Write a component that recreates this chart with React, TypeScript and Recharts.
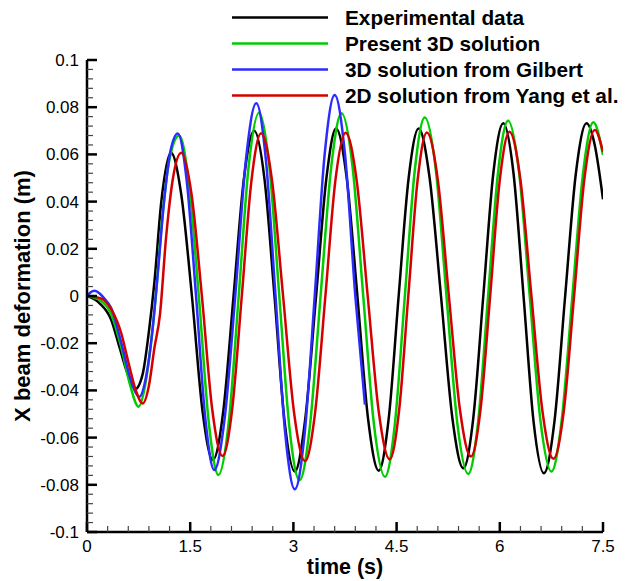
import { LineChart, Line, XAxis, YAxis, Legend } from "recharts";

type Pt = [number, number];

// [time (s), deformation (m)]
const experimental: Pt[] = [
  [0, 0], [0.18, -0.003], [0.35, -0.01], [0.47, -0.0215], [0.59, -0.033], [0.7, -0.0395],
  [0.81, -0.033], [0.9, -0.015], [0.98, 0.006], [1.08, 0.04], [1.22, 0.0607],
  [1.37, 0.043], [1.525, 0], [1.68, -0.049], [1.83, -0.0695],
  [1.98, -0.049], [2.13, 0], [2.28, 0.0495], [2.43, 0.07],
  [2.58, 0.0495], [2.725, 0], [2.87, -0.0526], [3.02, -0.0744],
  [3.17, -0.0526], [3.33, 0], [3.48, 0.05], [3.62, 0.071],
  [3.775, 0.05], [3.93, 0], [4.085, -0.052], [4.24, -0.074],
  [4.385, -0.052], [4.53, 0], [4.675, 0.05], [4.82, 0.071],
  [4.98, 0.05], [5.145, 0], [5.31, -0.0516], [5.47, -0.073],
  [5.615, -0.0516], [5.76, 0], [5.905, 0.0518], [6.05, 0.0732],
  [6.2, 0.0518], [6.345, 0], [6.49, -0.053], [6.64, -0.0751],
  [6.795, -0.053], [6.95, 0], [7.105, 0.0518], [7.26, 0.0732],
  [7.38, 0.064], [7.5, 0.041],
];

const present3D: Pt[] = [
  [0, 0], [0.2, -0.002], [0.34, -0.007], [0.5, -0.022], [0.62, -0.037], [0.75, -0.0469],
  [0.85, -0.037], [0.93, -0.02], [1.0, 0], [1.09, 0.032], [1.2, 0.058], [1.34, 0.068],
  [1.48, 0.048], [1.625, 0], [1.77, -0.0536], [1.91, -0.0758],
  [2.06, -0.0536], [2.205, 0], [2.35, 0.055], [2.5, 0.0777],
  [2.65, 0.055], [2.795, 0], [2.94, -0.0551], [3.09, -0.078],
  [3.24, -0.0551], [3.395, 0], [3.55, 0.0547], [3.7, 0.0774],
  [3.86, 0.0547], [4.015, 0], [4.17, -0.0542], [4.33, -0.0766],
  [4.475, -0.0542], [4.62, 0], [4.765, 0.0535], [4.91, 0.0756],
  [5.07, 0.0535], [5.225, 0], [5.38, -0.0533], [5.54, -0.0754],
  [5.685, -0.0533], [5.83, 0], [5.975, 0.0525], [6.12, 0.0743],
  [6.28, 0.0525], [6.435, 0], [6.59, -0.0526], [6.75, -0.0744],
  [6.9, -0.0526], [7.055, 0], [7.21, 0.052], [7.36, 0.0736],
  [7.5, 0.0597],
];

const gilbert3D: Pt[] = [
  [0, 0], [0.05, 0.0015], [0.11, 0.0022], [0.18, 0.0012], [0.25, -0.001], [0.35, -0.005],
  [0.5, -0.02], [0.63, -0.035], [0.76, -0.0427], [0.86, -0.034], [0.95, -0.015],
  [1.03, 0.01], [1.12, 0.04], [1.21, 0.061], [1.32, 0.0689],
  [1.45, 0.0487], [1.585, 0], [1.72, -0.0521], [1.85, -0.0737],
  [2.0, -0.0521], [2.155, 0], [2.31, 0.0578], [2.46, 0.0817],
  [2.6, 0.0578], [2.74, 0], [2.88, -0.0579], [3.02, -0.0819],
  [3.165, -0.0579], [3.31, 0], [3.455, 0.0602], [3.6, 0.0852],
  [3.75, 0.06], [3.9, 0], [4.04, -0.046],
];

const yang2D: Pt[] = [
  [0, 0], [0.2, -0.001], [0.36, -0.006], [0.5, -0.016], [0.605, -0.0285], [0.71, -0.04],
  [0.81, -0.0455], [0.9, -0.038], [0.98, -0.022], [1.06, -0.008], [1.15, 0.025],
  [1.25, 0.05], [1.37, 0.0607],
  [1.52, 0.043], [1.67, 0], [1.82, -0.048], [1.97, -0.0678],
  [2.11, -0.048], [2.25, 0], [2.39, 0.0488], [2.53, 0.069],
  [2.69, 0.0488], [2.85, 0], [3.01, -0.0495], [3.17, -0.07],
  [3.315, -0.0495], [3.465, 0], [3.61, 0.0489], [3.76, 0.0692],
  [3.92, 0.0489], [4.08, 0], [4.24, -0.0489], [4.4, -0.0692],
  [4.535, -0.0489], [4.67, 0], [4.805, 0.049], [4.94, 0.0693],
  [5.1, 0.049], [5.26, 0], [5.42, -0.048], [5.58, -0.068],
  [5.72, -0.048], [5.86, 0], [6.0, 0.0492], [6.14, 0.0696],
  [6.3, 0.0492], [6.46, 0], [6.62, -0.0488], [6.78, -0.069],
  [6.93, -0.0488], [7.08, 0], [7.23, 0.0497], [7.38, 0.0703],
  [7.5, 0.061],
];

const seriesNames = [
  "Experimental data",
  "Present 3D solution",
  "3D solution from Gilbert",
  "2D solution from Yang et al.",
];
const seriesColors = ["#000000", "#00cc00", "#2b2bff", "#d40000"];
const seriesData = [experimental, present3D, gilbert3D, yang2D];

const xMajorTicks = [0, 1.5, 3, 4.5, 6, 7.5];
const xTickLabels = ["0", "1.5", "3", "4.5", "6", "7.5"];
const yMajorTicks = [-0.1, -0.08, -0.06, -0.04, -0.02, 0, 0.02, 0.04, 0.06, 0.08, 0.1];
const yTickLabels = ["-0.1", "-0.08", "-0.06", "-0.04", "-0.02", "0", "0.02", "0.04", "0.06", "0.08", "0.1"];

const FONT = "'Liberation Sans', Arial, Helvetica, sans-serif";

// major ticks plus 4 minor ticks between each pair
function withMinor(major: number[]) {
  const out: number[] = [];
  for (let i = 0; i < major.length - 1; i++) {
    for (let k = 0; k < 5; k++) out.push(major[i] + ((major[i + 1] - major[i]) * k) / 5);
  }
  out.push(major[major.length - 1]);
  return out;
}

function majorIndex(list: number[], v: number) {
  return list.findIndex((m) => Math.abs(m - v) < 1e-9);
}

function YTick({ x, y, payload }: any) {
  const idx = majorIndex(yMajorTicks, payload.value);
  const major = idx >= 0;
  return (
    <g>
      <line x1={x} y1={y} x2={x + (major ? 10 : 6)} y2={y} stroke={major ? "#000" : "#444"} strokeWidth={major ? 2.5 : 1.2} />
      {major && (
        <text x={x - 8} y={y + 6} textAnchor="end" fontSize={17} fontFamily={FONT} fill="#000">
          {yTickLabels[idx]}
        </text>
      )}
    </g>
  );
}

function XTick({ x, y, payload }: any) {
  const idx = majorIndex(xMajorTicks, payload.value);
  const major = idx >= 0;
  return (
    <g>
      <line x1={x} y1={y} x2={x} y2={y - (major ? 10 : 6)} stroke={major ? "#000" : "#444"} strokeWidth={major ? 2.5 : 1.2} />
      {major && (
        <text x={x} y={y + 20} textAnchor="middle" fontSize={17} fontFamily={FONT} fill="#000">
          {xTickLabels[idx]}
        </text>
      )}
    </g>
  );
}

function LegendBox() {
  return (
    <svg width={641} height={110} style={{ display: "block" }}>
      {seriesNames.map((name, i) => {
        const cy = 17.5 + i * 26;
        return (
          <g key={name}>
            <line x1={232} y1={cy} x2={328} y2={cy} stroke={seriesColors[i]} strokeWidth={2.5} />
            <text x={345} y={cy + 7} fontSize={20.8} fontWeight="bold" fontFamily={FONT} fill="#000">
              {name}
            </text>
          </g>
        );
      })}
    </svg>
  );
}

export default function App() {
  return (
    <div style={{ position: "absolute", left: 0, top: 0, width: 641, height: 581, background: "#fff" }}>
      <LineChart width={641} height={581} margin={{ top: 60, right: 38, left: 0, bottom: 8 }}>
        <XAxis
          dataKey="t"
          type="number"
          domain={[0, 7.5]}
          ticks={withMinor(xMajorTicks)}
          interval={0}
          tickLine={false}
          tickSize={0}
          tickMargin={0}
          tick={<XTick />}
          height={41}
          allowDataOverflow
          axisLine={{ stroke: "#000", strokeWidth: 2.5 }}
          label={(props: any) => {
            const vb = props.viewBox;
            return (
              <text x={vb.x + vb.width / 2} y={vb.y + 42} textAnchor="middle" fontSize={21.5} fontWeight="bold" fontFamily={FONT} fill="#000">
                time (s)
              </text>
            );
          }}
        />
        <YAxis
          type="number"
          domain={[-0.1, 0.1]}
          ticks={withMinor(yMajorTicks)}
          interval={0}
          tickLine={false}
          tickSize={0}
          tickMargin={0}
          tick={<YTick />}
          width={87}
          allowDataOverflow
          axisLine={{ stroke: "#000", strokeWidth: 2.5 }}
          label={(props: any) => {
            const vb = props.viewBox;
            const cx = 22;
            const cy = vb.y + vb.height / 2;
            return (
              <text x={cx} y={cy} transform={`rotate(-90 ${cx} ${cy})`} textAnchor="middle" dominantBaseline="central" fontSize={22} fontWeight="bold" fontFamily={FONT} fill="#000">
                X beam deformation (m)
              </text>
            );
          }}
        />
        {seriesData.map((pts, i) => (
          <Line
            key={seriesNames[i]}
            name={seriesNames[i]}
            data={pts.map(([t, v]) => ({ t, v }))}
            dataKey="v"
            type="monotone"
            stroke={seriesColors[i]}
            strokeWidth={2.5}
            dot={false}
            isAnimationActive={false}
          />
        ))}
        <Legend
          layout="vertical"
          align="center"
          verticalAlign="middle"
          wrapperStyle={{ left: 0, top: 0, width: 641 }}
          content={() => <LegendBox />}
        />
      </LineChart>
    </div>
  );
}
